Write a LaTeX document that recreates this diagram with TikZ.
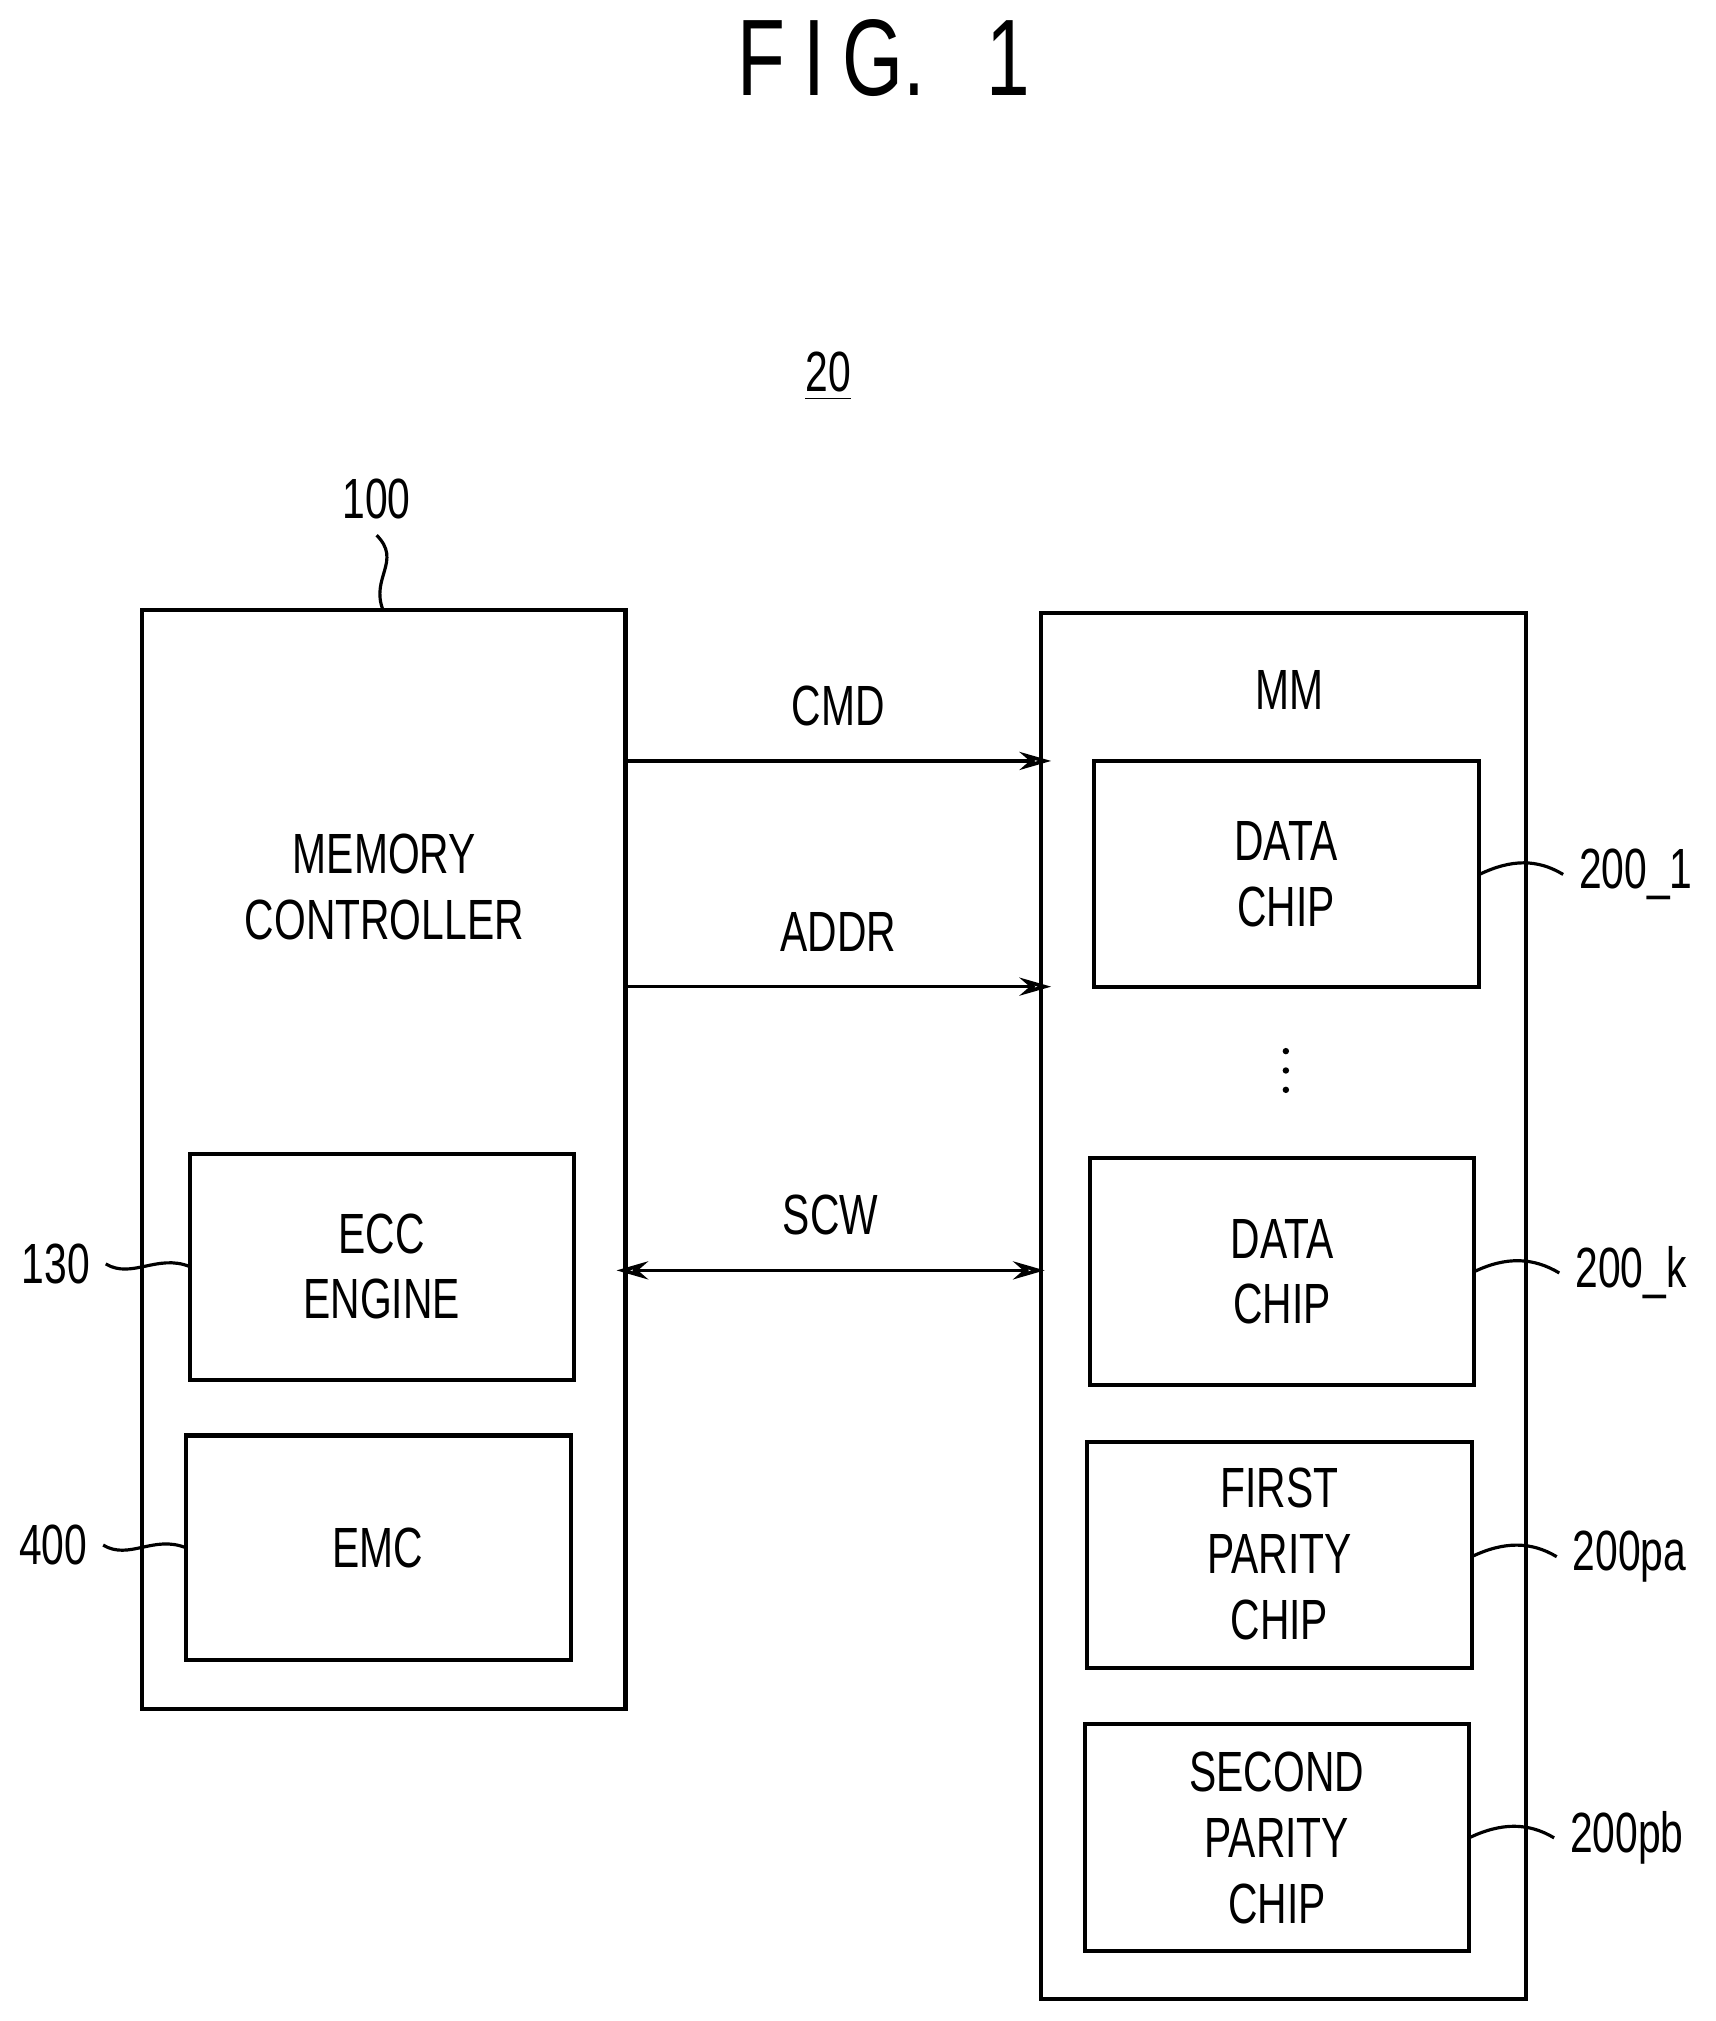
\documentclass[tikz,border=0pt]{standalone}
\usepackage{fontspec}
\setmainfont{Liberation Sans}[FakeStretch=0.72]
\usetikzlibrary{arrows.meta}
\begin{document}
\begin{tikzpicture}[x=0.01cm,y=-0.01cm,
 box/.style={draw,line width=0.9pt},
 lbl/.style={font=\fontsize{12.5}{14.5}\selectfont,align=center},
 arr/.style={line width=0.8pt,-{Stealth[length=7pt,width=4pt,open]}},
 lead/.style={line width=0.7pt}]
\useasboundingbox (0,0) rectangle (1330,1567);
\node[font=\fontsize{24}{24}\selectfont] (fig) at (685,45) {F\,I\,G.\;\;1};
\node[lbl] (n20) at (642,292) {\underline{20}};
% memory controller
\draw[box] (110,473) rectangle (485,1325);
\coordinate (mcT) at (297,473);
\node[lbl] (mc) at (298,688) {MEMORY\\CONTROLLER};
\draw[box] (147,895) rectangle (445,1070);
\node[lbl] (ecct) at (296,982) {ECC\\ENGINE};
\draw[box] (144,1113) rectangle (443,1287);
\node[lbl] (emc) at (293,1200) {EMC};
\coordinate (eccL) at (147,982);
\coordinate (emcL) at (144,1200);
\node[lbl] (n100) at (292,387) {100};
\node[lbl,anchor=east] (n130) at (82,980) {130};
\node[lbl,anchor=east] (n400) at (80,1198) {400};
\draw[lead] (n100.south) .. controls +(20,20) and +(-10,-25) .. (mcT);
\draw[lead] (n130.east) .. controls +(20,12) and +(-25,-10) .. (eccL);
\draw[lead] (n400.east) .. controls +(20,12) and +(-25,-10) .. (emcL);
% MM
\draw[box] (807,475) rectangle (1183,1550);
\node[lbl] (mm) at (1000,535) {MM};
\draw[box] (848,590) rectangle (1147,765);
\node[lbl] (c1) at (997,678) {DATA\\CHIP};
\foreach \yy [count=\i] in {815,830,845} \fill (997,\yy) circle (2.5);
\coordinate (dots) at (997,830);
\draw[box] (845,898) rectangle (1143,1074);
\node[lbl] (ck) at (994,986) {DATA\\CHIP};
\draw[box] (843,1118) rectangle (1141,1293);
\node[lbl] (cpa) at (992,1205) {FIRST\\PARITY\\CHIP};
\draw[box] (841,1337) rectangle (1139,1513);
\node[lbl] (cpb) at (990,1425) {SECOND\\PARITY\\CHIP};
\coordinate (c1R) at (1147,678);
\coordinate (ckR) at (1143,986);
\coordinate (paR) at (1141,1207);
\coordinate (pbR) at (1139,1425);
\node[lbl,anchor=west] (l1) at (1212,678) {200\_1};
\node[lbl,anchor=west] (lk) at (1209,987) {200\_k};
\node[lbl,anchor=west] (lpa) at (1207,1207) {200pa};
\node[lbl,anchor=west] (lpb) at (1205,1425) {200pb};
\draw[lead] (c1R) .. controls +(25,-12) and +(-20,-12) .. (l1.west);
\draw[lead] (ckR) .. controls +(25,-12) and +(-20,-12) .. (lk.west);
\draw[lead] (paR) .. controls +(25,-12) and +(-20,-12) .. (lpa.west);
\draw[lead] (pbR) .. controls +(25,-12) and +(-20,-12) .. (lpb.west);
% signals
\coordinate (cmdA) at (485,590); \coordinate (cmdB) at (815,590);
\coordinate (adA) at (485,765); \coordinate (adB) at (815,765);
\coordinate (scA) at (478,985); \coordinate (scB) at (810,985);
\draw[arr] (cmdA) -- (cmdB) node[midway,above=4pt,lbl] (cmd) {CMD};
\draw[arr] (adA) -- (adB) node[midway,above=4pt,lbl] (addr) {ADDR};
\draw[arr,{Stealth[length=7pt,width=4pt,open]}-{Stealth[length=7pt,width=4pt,open]}] (scA) -- (scB) node[midway,above=4pt,lbl] (scw) {SCW};
\end{tikzpicture}
\end{document}
